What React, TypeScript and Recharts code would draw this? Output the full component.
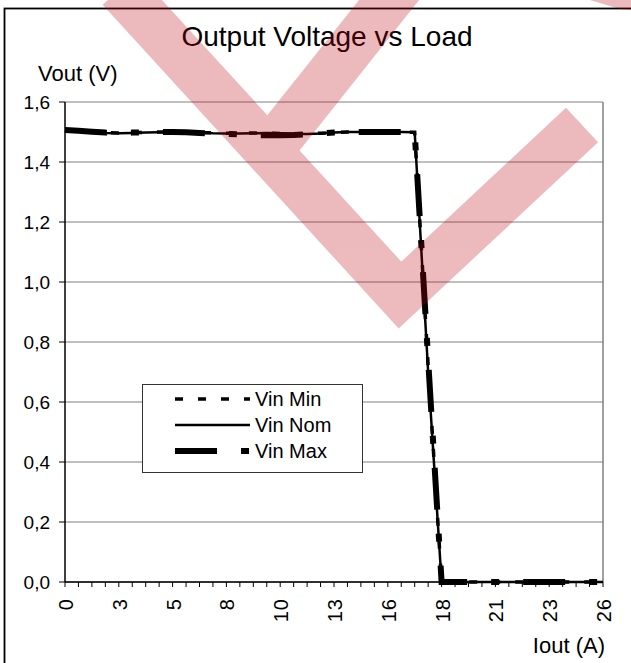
import { LineChart, Line, XAxis, YAxis, CartesianGrid, ReferenceLine, Legend } from 'recharts';

const FONT = '"Liberation Sans", Arial, sans-serif';

// load current in A (one category every 0.65 A)
const iout = [
  0, 0.65, 1.3, 1.95, 2.6, 3.25, 3.9, 4.55, 5.2, 5.85, 6.5, 7.15, 7.8, 8.45,
  9.1, 9.75, 10.4, 11.05, 11.7, 12.35, 13, 13.65, 14.3, 14.95, 15.6, 16.25,
  16.9, 17.55, 18.2, 18.85, 19.5, 20.15, 20.8, 21.45, 22.1, 22.75, 23.4, 24.05,
  24.7, 25.35, 26,
];

const vinMin = [
  1.506, 1.503, 1.5, 1.498, 1.497, 1.498, 1.499, 1.5, 1.5, 1.499, 1.498, 1.497,
  1.496, 1.496, 1.497, 1.497, 1.495, 1.494, 1.494, 1.496, 1.498, 1.5, 1.5,
  1.5, 1.5, 1.5, 1.499, 0.72, 0, 0, 0, 0, 0, 0, 0, 0, 0, 0, 0, 0, 0,
];

const vinNom = [
  1.505, 1.503, 1.5, 1.497, 1.496, 1.497, 1.498, 1.499, 1.5, 1.5, 1.498, 1.496,
  1.495, 1.495, 1.496, 1.497, 1.496, 1.494, 1.493, 1.495, 1.498, 1.5, 1.5,
  1.5, 1.5, 1.5, 1.499, 0.7, 0, 0, 0, 0, 0, 0, 0, 0, 0, 0, 0, 0, 0,
];

const vinMax = [
  1.507, 1.504, 1.501, 1.498, 1.497, 1.498, 1.499, 1.5, 1.5, 1.499, 1.497,
  1.495, 1.494, 1.492, 1.49, 1.489, 1.489, 1.49, 1.492, 1.495, 1.498, 1.5,
  1.5, 1.5, 1.5, 1.5, 1.499, 0.74, 0, 0, 0, 0, 0, 0, 0, 0, 0, 0, 0, 0, 0,
];

const yTicks = [0, 0.2, 0.4, 0.6, 0.8, 1.0, 1.2, 1.4, 1.6];

const SERIES = [
  { key: 'vinMin', name: 'Vin Min', width: 3.5, dash: '8 15' },
  { key: 'vinNom', name: 'Vin Nom', width: 2.5, dash: undefined },
  { key: 'vinMax', name: 'Vin Max', width: 6, dash: '42 24 8 24' },
];

const data = iout.map((x, i) => ({
  x,
  vinMin: vinMin[i],
  vinNom: vinNom[i],
  vinMax: vinMax[i],
}));

function XTick(props: any) {
  const { x, y, payload } = props;
  const idx = iout.indexOf(payload.value);
  if (idx % 4 !== 0) return <g />;
  const tx = x + 1;
  const ty = y + 9;
  return (
    <text
      x={tx}
      y={ty}
      transform={`rotate(-90, ${tx}, ${ty})`}
      textAnchor="end"
      dominantBaseline="central"
      fontSize={20}
      letterSpacing={1}
      fontFamily={FONT}
      fill="#000"
    >
      {Math.round(payload.value)}
    </text>
  );
}

function LegendBox() {
  return (
    <svg width={221} height={89} style={{ display: 'block' }}>
      <rect x={0.5} y={0.5} width={220} height={88} fill="#fff" stroke="#333" strokeWidth={1} />
      {SERIES.map((s, i) => {
        const cy = 15 + i * 26;
        return (
          <g key={s.key}>
            <line
              x1={33}
              x2={108}
              y1={cy}
              y2={cy}
              stroke="#000"
              strokeWidth={s.width}
              strokeDasharray={s.dash}
            />
            <text x={113} y={cy} dy="0.35em" fontSize={20} fontFamily={FONT} fill="#000">
              {s.name}
            </text>
          </g>
        );
      })}
    </svg>
  );
}

export default function App() {
  return (
    <div style={{ position: 'fixed', left: 0, top: 0, width: 631, height: 663, background: '#fff' }}>
      <LineChart
        width={631}
        height={663}
        data={data}
        margin={{ top: 102, right: 28, bottom: 31, left: 5 }}
      >
        <CartesianGrid horizontal vertical={false} stroke="#808080" strokeWidth={1} />
        <XAxis
          dataKey="x"
          type="number"
          domain={[0, 26]}
          ticks={iout}
          interval={0}
          height={50}
          tick={<XTick />}
          tickSize={5}
          tickLine={{ stroke: '#000' }}
          axisLine={{ stroke: '#000', strokeWidth: 1.5 }}
        />
        <YAxis
          type="number"
          domain={[0, 1.6]}
          ticks={yTicks}
          interval={0}
          width={60}
          tickSize={6}
          tickMargin={9}
          tickFormatter={(v: number) => v.toFixed(1).replace('.', ',')}
          tick={{ fontSize: 19, fontFamily: FONT, fill: '#000' }}
          tickLine={{ stroke: '#000' }}
          axisLine={{ stroke: '#000', strokeWidth: 1.5 }}
        />
        <ReferenceLine x={26} stroke="#808080" strokeWidth={1.5} />
        <Legend
          layout="horizontal"
          verticalAlign="middle"
          align="center"
          wrapperStyle={{ left: 142, top: 384, width: 221, height: 89 }}
          content={() => <LegendBox />}
        />
        {SERIES.map((s) => (
          <Line
            key={s.key}
            dataKey={s.key}
            name={s.name}
            type="linear"
            stroke="#000"
            strokeWidth={s.width}
            strokeDasharray={s.dash}
            strokeLinecap="butt"
            dot={false}
            activeDot={false}
            isAnimationActive={false}
          />
        ))}
      </LineChart>
      <svg
        width={631}
        height={663}
        style={{ position: 'absolute', left: 0, top: 0, pointerEvents: 'none' }}
      >
        <rect x={4.5} y={8.5} width={700} height={700} fill="none" stroke="#000" strokeWidth={1.8} />
        <text x={327} y={46} textAnchor="middle" fontSize={28} fontFamily={FONT} fill="#000">
          Output Voltage vs Load
        </text>
        <text x={38} y={81} fontSize={22} fontFamily={FONT} fill="#000">
          Vout (V)
        </text>
        <text x={605} y={653} textAnchor="end" fontSize={22} fontFamily={FONT} fill="#000">
          Iout (A)
        </text>
        {/* watermark */}
        <g opacity={0.27}>
          <g fill="none" stroke="rgb(188,0,15)" strokeWidth={47}>
            <polyline points="120,-11 400,295 582,125" strokeLinejoin="miter" strokeMiterlimit={10} />
            <polyline points="405,-20 269,151" />
          </g>
          <polygon points="590,0 631,0 631,10 620,9" fill="rgb(188,0,15)" />
        </g>
      </svg>
    </div>
  );
}
